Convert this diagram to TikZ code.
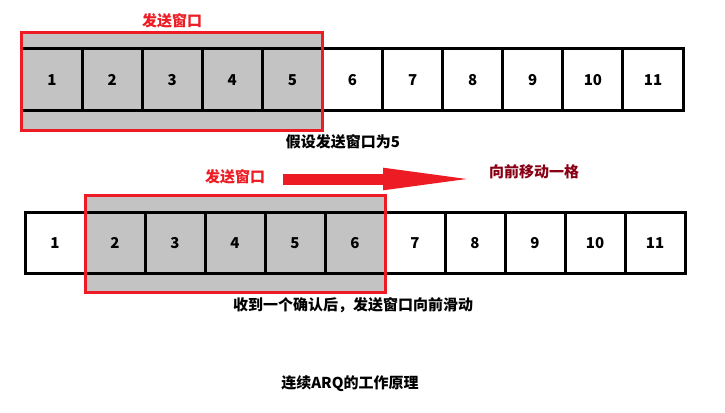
\documentclass[tikz,border=0pt]{standalone}
\usepackage{fontspec}
\usepackage{xcolor}
\usepackage{tikz}
\usetikzlibrary{calc}
\usetikzlibrary{positioning}
\usetikzlibrary{arrows.meta}
\usetikzlibrary{backgrounds}
\newfontfamily\cjk{Noto Sans CJK SC}
\definecolor{winred}{HTML}{ED1C24}
\definecolor{wingrey}{HTML}{C3C3C3}
\definecolor{movered}{HTML}{880015}

\begin{document}
\begin{tikzpicture}[x=1pt,y=-1pt]
  \tikzset{every node/.style={font=\cjk\bfseries\fontsize{15}{18}\selectfont,text centered,inner sep=0pt,outer sep=0pt}};
  \tikzset{cell/.style={draw,line width=3pt,minimum width=60.1pt,minimum height=61pt,text height=11pt,text depth=0pt}};
  \tikzset{win/.style={draw=winred,line width=3pt}};
  \useasboundingbox (0,0) rectangle (725,412);
  % window of 5 before the ack
  \node [cell] (a1) at (52,79.5) {1};
  \node [cell, right=0pt of a1] (a2) {2};
  \node [cell, right=0pt of a2] (a3) {3};
  \node [cell, right=0pt of a3] (a4) {4};
  \node [cell, right=0pt of a4] (a5) {5};
  \node [cell, right=0pt of a5] (a6) {6};
  \node [cell, right=0pt of a6] (a7) {7};
  \node [cell, right=0pt of a7] (a8) {8};
  \node [cell, right=0pt of a8] (a9) {9};
  \node [cell, right=0pt of a9] (a10) {10};
  \node [cell, right=0pt of a10] (a11) {11};
  \begin{scope}[on background layer]
    \fill[wingrey] ($(a1.north west)+(0,-16)$) rectangle ($(a5.south east)+(0,20)$);
  \end{scope}
  \draw[win] ($(a1.north west)+(0,-16)$) rectangle ($(a5.south east)+(0,20)$);
  \node [text=winred] (wlabel1) at (172,21) {发送窗口};
  \node (note1) at (343,142) {假设发送窗口为5};
  % window after sliding one cell
  \node [cell, minimum width=60pt] (b1) at (55,242.5) {1};
  \node [cell, minimum width=60pt, right=0pt of b1] (b2) {2};
  \node [cell, minimum width=60pt, right=0pt of b2] (b3) {3};
  \node [cell, minimum width=60pt, right=0pt of b3] (b4) {4};
  \node [cell, minimum width=60pt, right=0pt of b4] (b5) {5};
  \node [cell, minimum width=60pt, right=0pt of b5] (b6) {6};
  \node [cell, minimum width=60pt, right=0pt of b6] (b7) {7};
  \node [cell, minimum width=60pt, right=0pt of b7] (b8) {8};
  \node [cell, minimum width=60pt, right=0pt of b8] (b9) {9};
  \node [cell, minimum width=60pt, right=0pt of b9] (b10) {10};
  \node [cell, minimum width=60pt, right=0pt of b10] (b11) {11};
  \begin{scope}[on background layer]
    \fill[wingrey] ($(b2.north west)+(0,-17)$) rectangle ($(b6.south east)+(0,19)$);
  \end{scope}
  \draw[win] ($(b2.north west)+(0,-17)$) rectangle ($(b6.south east)+(0,19)$);
  \node [text=winred] (wlabel2) at (235,177) {发送窗口};
  \node [text=movered] (movetxt) at (534,172) {向前移动一格};
  \coordinate (mvstart) at (283,179);
  \coordinate (mvend) at (485,179);
  \draw[winred, line width=11pt, -{Triangle[length=102pt,width=19pt]}] (mvstart) -- (mvend);
  \node (note2) at (353,305) {收到一个确认后，发送窗口向前滑动};
  \node (title) at (350,384) {连续ARQ的工作原理};
\end{tikzpicture}
\end{document}
